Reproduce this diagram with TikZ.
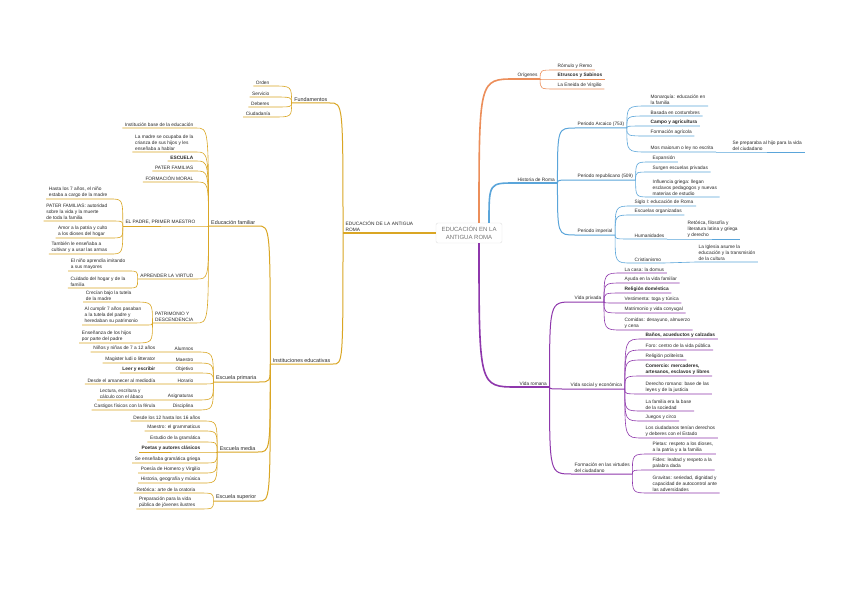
\documentclass[tikz,border=0pt]{standalone}
\usepackage{fontspec}
\setmainfont{Liberation Sans}
\usetikzlibrary{calc}
\definecolor{oro}{RGB}{218,166,36}
\definecolor{naranja}{RGB}{236,142,90}
\definecolor{azul}{RGB}{90,165,218}
\definecolor{morado}{RGB}{142,55,172}
\definecolor{tinta}{RGB}{40,40,40}

\begin{document}
\begin{tikzpicture}[x=1pt, y=-1pt,
  txt/.style={inner xsep=2.5pt, inner ysep=1.3pt, align=left, text=tinta,
    font=\fontsize{4.8}{6.2}\selectfont},
  izq/.style={txt, anchor=south east},
  der/.style={txt, anchor=south west},
  grande/.style={font=\fontsize{5.4}{6.6}\selectfont},
  centro/.style={draw=black!12, rounded corners=2pt, fill=white, text=black!55,
    align=center, font=\fontsize{6}{7.4}\selectfont, minimum width=66pt, minimum height=20pt},
  rama/.style={line width=1.6pt},
  hilo/.style={line width=1pt},
  fino/.style={line width=0.6pt}]

\useasboundingbox (0,0) rectangle (848,599);
\fill[white] (0,0) rectangle (848,599);

% tema central
\node[centro] (centro) at (469,233) {EDUCACIÓN EN LA\\ANTIGUA ROMA};
\coordinate (sN) at ($(centro.north)+(10,0)$);
\coordinate (sA) at ($(centro.north)+(20,0)$);
\coordinate (sM) at ($(centro.south)+(10,0)$);

% rama izquierda
\node[der, text width=80pt] (educ) at (343,233) {EDUCACIÓN DE LA ANTIGUA\\ROMA};
\node[izq, grande] (fund) at (330,103) {Fundamentos};
\node[izq] (f1) at (272,86) {Orden};
\node[izq] (f2) at (272,97) {Servicio};
\node[izq] (f3) at (272,107) {Deberes};
\node[izq] (f4) at (273,117) {Ciudadanía};

\node[izq, grande] (inst) at (333,364) {Instituciones educativas};
\node[izq, grande] (fam) at (258,226) {Educación familiar};
\node[izq] (fam1) at (196,128) {Institución base de la educación};
\node[izq] (fam2) at (196,152) {La madre se ocupaba de la\\crianza de sus hijos y les\\enseñaba a hablar};
\node[izq] (fam3) at (196,161) {\bfseries ESCUELA};
\node[izq] (fam4) at (196,171) {PATER FAMILIAS};
\node[izq] (fam5) at (196,182) {FORMACIÓN MORAL};
\node[izq] (fam6) at (198,226) {EL PADRE, PRIMER MAESTRO};
\node[izq] (fam7) at (196,279) {APRENDER LA VIRTUD};
\node[izq] (fam8) at (196,323) {PATRIMONIO Y\\DESCENDENCIA};

\node[izq] (pat1) at (110,199) {Hasta los 7 años, el niño\\estaba a cargo de la madre};
\node[izq] (pat2) at (110,221) {PATER FAMILIAS: autoridad\\sobre la vida y la muerte\\de toda la familia};
\node[izq] (pat3) at (110,238) {Amor a la patria y culto\\a los dioses del hogar};
\node[izq] (pat4) at (110,254) {También le enseñaba a\\cultivar y a usar las armas};

\node[izq] (apr1) at (128,271) {El niño aprendía imitando\\a sus mayores};
\node[izq] (apr2) at (128,288) {Cuidado del hogar y de la\\familia};

\node[izq] (des1) at (134,302) {Crecían bajo la tutela\\de la madre};
\node[izq] (des2) at (144,325) {Al cumplir 7 años pasaban\\a la tutela del padre y\\heredaban su patrimonio};
\node[izq] (des3) at (134,343) {Enseñanza de los hijos\\por parte del padre};

\node[izq, grande] (prim) at (259,382) {Escuela primaria};
\node[izq] (pr1) at (196,352) {Alumnos};
\node[izq] (pr2) at (196,363) {Maestro};
\node[izq] (pr3) at (196,373) {Objetivo};
\node[izq] (pr4) at (196,384) {Horario};
\node[izq] (pr5) at (196,400) {Asignaturas};
\node[izq] (pr6) at (196,410) {Disciplina};
\node[izq] (pl1) at (158,352) {Niños y niñas de 7 a 12 años};
\node[izq] (pl2) at (158,363) {Magister ludi o litterator};
\node[izq] (pl3) at (158,373) {\bfseries Leer y escribir};
\node[izq] (pl4) at (158,384) {Desde el amanecer al mediodía};
\node[izq] (pl5) at (146,400) {Lectura, escritura y\\cálculo con el ábaco};
\node[izq] (pl6) at (158,410) {Castigos físicos con la férula};

\node[izq, grande] (med) at (258,452) {Escuela media};
\node[izq] (me1) at (203,421) {Desde los 12 hasta los 16 años};
\node[izq] (me2) at (203,431) {Maestro: el grammaticus};
\node[izq] (me3) at (203,442) {Estudio de la gramática};
\node[izq] (me4) at (203,452) {\bfseries Poetas y autores clásicos};
\node[izq] (me5) at (203,463) {Se enseñaba gramática griega};
\node[izq] (me6) at (203,473) {Poesía de Homero y Virgilio};
\node[izq] (me7) at (203,483) {Historia, geografía y música};

\node[izq, grande] (sup) at (259,501) {Escuela superior};
\node[izq] (su1) at (198,493) {Retórica: arte de la oratoria};
\node[izq] (su2) at (198,509) {Preparación para la vida\\pública de jóvenes ilustres};

\draw[oro, rama] (centro.west) -- (educ.south east) -- (educ.south west);
\foreach \c in {fund,inst}
  \draw[oro, hilo] (educ.south west) .. controls (educ.south west |- \c.south east) .. (\c.south east) -- (\c.south west);
\foreach \i in {1,...,4}
  \draw[oro, fino] (fund.south west) .. controls (fund.south west |- f\i.south east) .. (f\i.south east) -- (f\i.south west);
\foreach \c in {fam,prim,med,sup}
  \draw[oro, hilo] (inst.south west) .. controls (inst.south west |- \c.south east) .. (\c.south east) -- (\c.south west);
\foreach \i in {1,...,8}
  \draw[oro, fino] (fam.south west) .. controls (fam.south west |- fam\i.south east) .. (fam\i.south east) -- (fam\i.south west);
\foreach \i in {1,...,4}
  \draw[oro, fino] (fam6.south west) .. controls (fam6.south west |- pat\i.south east) .. (pat\i.south east) -- (pat\i.south west);
\foreach \i in {1,2}
  \draw[oro, fino] (fam7.south west) .. controls (fam7.south west |- apr\i.south east) .. (apr\i.south east) -- (apr\i.south west);
\foreach \i in {1,2,3}
  \draw[oro, fino] (fam8.south west) .. controls (fam8.south west |- des\i.south east) .. (des\i.south east) -- (des\i.south west);
\foreach \i in {1,...,6}
  \draw[oro, fino] (prim.south west) .. controls (prim.south west |- pr\i.south east) .. (pr\i.south east) -- (pr\i.south west) -- (pl\i.south east) -- (pl\i.south west);
\foreach \i in {1,...,7}
  \draw[oro, fino] (med.south west) .. controls (med.south west |- me\i.south east) .. (me\i.south east) -- (me\i.south west);
\foreach \i in {1,2}
  \draw[oro, fino] (sup.south west) .. controls (sup.south west |- su\i.south east) .. (su\i.south east) -- (su\i.south west);

% origenes
\node[der] (orig) at (515,79) {Orígenes};
\node[der] (or1) at (555,70) {Rómulo y Remo};
\node[der] (or2) at (555,79) {\bfseries Etruscos y Sabinos};
\node[der] (or3) at (555,89) {La Eneida de Virgilio};

\draw[naranja, rama] (sN) .. controls (sN |- orig.south west) .. (orig.south west) -- (orig.south east);
\foreach \i in {1,2,3}
  \draw[naranja, fino] (orig.south east) .. controls (orig.south east |- or\i.south west) .. (or\i.south west) -- (or\i.south east);

% historia
\node[der] (hist) at (515,183) {Historia de Roma};
\node[der] (arc) at (575,128) {Periodo Arcaico (753)};
\node[der] (ar1) at (648,106) {Monarquía: educación en\\la familia};
\node[der] (ar2) at (648,116) {Basada en costumbres};
\node[der] (ar3) at (648,126) {\bfseries Campo y agricultura};
\node[der] (ar4) at (648,136) {Formación agrícola};
\node[der] (ar5) at (648,152) {Mos maiorum o ley no escrita};
\node[der] (ar5a) at (730,152) {Se preparaba al hijo para la vida\\del ciudadano};
\node[der] (rep) at (575,180) {Periodo republicano (509)};
\node[der] (re1) at (650,162) {Expansión};
\node[der] (re2) at (650,172) {Surgen escuelas privadas};
\node[der] (re3) at (650,197) {Influencia griega: llegan\\esclavos pedagogos y nuevas\\materias de estudio};
\node[der] (imp) at (575,235) {Periodo imperial};
\node[der] (im1) at (632,206) {Siglo I: educación de Roma};
\node[der] (im2) at (632,215) {Escuelas organizadas};
\node[der] (im3) at (632,239) {Humanidades};
\node[der] (im3a) at (685,239) {Retórica, filosofía y\\literatura latina y griega\\y derecho};
\node[der] (im4) at (632,263) {Cristianismo};
\node[der] (im4a) at (696,262) {La Iglesia asume la\\educación y la transmisión\\de la cultura};

\draw[azul, rama] (sA) .. controls (sA |- hist.south west) .. (hist.south west) -- (hist.south east);
\foreach \c in {arc,rep,imp}
  \draw[azul, hilo] (hist.south east) .. controls (hist.south east |- \c.south west) .. (\c.south west) -- (\c.south east);
\foreach \i in {1,...,5}
  \draw[azul, fino] (arc.south east) .. controls (arc.south east |- ar\i.south west) .. (ar\i.south west) -- (ar\i.south east);
\foreach \i in {1,2,3}
  \draw[azul, fino] (rep.south east) .. controls (rep.south east |- re\i.south west) .. (re\i.south west) -- (re\i.south east);
\foreach \i in {1,...,4}
  \draw[azul, fino] (imp.south east) .. controls (imp.south east |- im\i.south west) .. (im\i.south west) -- (im\i.south east);
\draw[azul, fino] (ar5.south east) -- (ar5a.south west) -- (ar5a.south east);
\draw[azul, fino] (im3.south east) -- (im3a.south west) -- (im3a.south east);
\draw[azul, fino] (im4.south east) -- (im4a.south west) -- (im4a.south east);

% vida romana
\node[der] (vida) at (517,387) {Vida romana};
\node[der] (vp) at (572,302) {Vida privada};
\node[der] (vp1) at (622,273) {La casa: la domus};
\node[der] (vp2) at (622,283) {Ayuda en la vida familiar};
\node[der] (vp3) at (622,293) {\bfseries Religión doméstica};
\node[der] (vp4) at (622,303) {Vestimenta: toga y túnica};
\node[der] (vp5) at (622,313) {Matrimonio y vida conyugal};
\node[der] (vp6) at (622,330) {Comidas: desayuno, almuerzo\\y cena};
\node[der] (ve) at (568,389) {Vida social y económica};
\node[der] (ve1) at (643,339) {\bfseries Baños, acueductos y calzadas};
\node[der] (ve2) at (643,350) {Foro: centro de la vida pública};
\node[der] (ve3) at (643,360) {Religión politeísta};
\node[der] (ve4) at (643,376) {\bfseries Comercio: mercaderes,\\\bfseries artesanos, esclavos y libres};
\node[der] (ve5) at (643,394) {Derecho romano: base de las\\leyes y de la justicia};
\node[der] (ve6) at (643,411) {La familia era la base\\de la sociedad};
\node[der] (ve7) at (643,421) {Juegos y circo};
\node[der] (ve8) at (643,438) {Los ciudadanos tenían derechos\\y deberes con el Estado};
\node[der] (fc) at (572,474) {Formación en las virtudes\\del ciudadano};
\node[der] (fc1) at (650,454) {Pietas: respeto a los dioses,\\a la patria y a la familia};
\node[der] (fc2) at (650,470) {Fides: lealtad y respeto a la\\palabra dada};
\node[der] (fc3) at (650,493) {Gravitas: seriedad, dignidad y\\capacidad de autocontrol ante\\las adversidades};

\draw[morado, rama] (sM) .. controls (sM |- vida.south west) .. (vida.south west) -- (vida.south east);
\foreach \c in {vp,ve,fc}
  \draw[morado, hilo] (vida.south east) .. controls (vida.south east |- \c.south west) .. (\c.south west) -- (\c.south east);
\foreach \i in {1,...,6}
  \draw[morado, fino] (vp.south east) .. controls (vp.south east |- vp\i.south west) .. (vp\i.south west) -- (vp\i.south east);
\foreach \i in {1,...,8}
  \draw[morado, fino] (ve.south east) .. controls (ve.south east |- ve\i.south west) .. (ve\i.south west) -- (ve\i.south east);
\foreach \i in {1,2,3}
  \draw[morado, fino] (fc.south east) .. controls (fc.south east |- fc\i.south west) .. (fc\i.south west) -- (fc\i.south east);
\end{tikzpicture}
\end{document}
